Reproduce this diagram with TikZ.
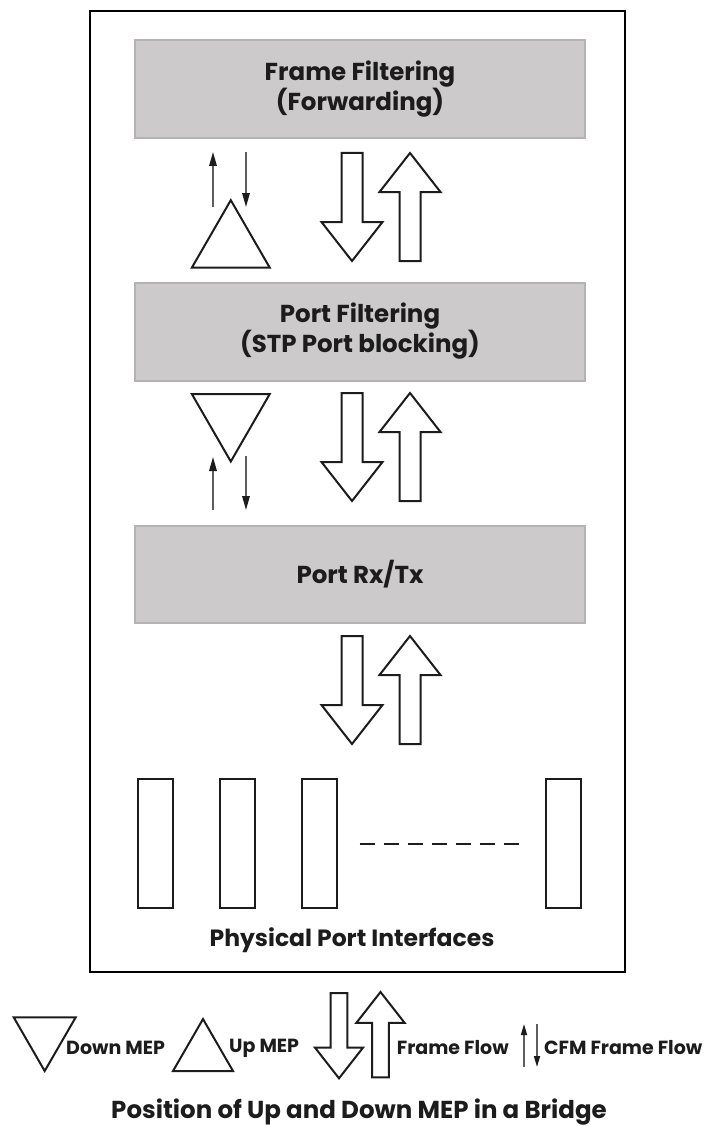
\documentclass[tikz,border=0pt]{standalone}
\usepackage{fontspec}
\setmainfont{Poppins}
\usetikzlibrary{
  arrows.meta,
  calc,
  shapes.geometric
}
\definecolor{ink}{HTML}{1C1C1C}
\definecolor{stagefill}{HTML}{CCCACB}
\definecolor{stageline}{HTML}{B4B2B3}
\definecolor{cfmline}{HTML}{5E5E5E}
\newcommand{\txtsize}[1]{\fontsize{#1}{29}\selectfont\bfseries}
\tikzset{
  stage/.style={
    draw=stageline,
    fill=stagefill,
    line width=2pt,
    minimum width=450pt,
    minimum height=98pt,
    align=center,
    text=ink,
    font=\txtsize{24.5}
  },
  portslot/.style={
    draw=ink,
    line width=2pt,
    minimum width=35pt,
    minimum height=129pt,
    inner sep=0pt
  },
  mepup/.style={
    regular polygon,
    regular polygon sides=3,
    draw=ink,
    line width=2pt,
    minimum size=90pt,
    inner sep=0pt
  },
  mepdown/.style={
    mepup,
    shape border rotate=180
  },
  flowedge/.style={
    draw=ink,
    fill=white,
    line width=2pt,
    line join=miter
  },
  cfmflow/.style={
    -{Triangle[length=14pt,width=7.5pt,color=ink]},
    line width=1.6pt,
    draw=cfmline
  },
  cfmsmall/.style={
    cfmflow,
    -{Triangle[length=11pt,width=6pt,color=ink]}
  },
  caption/.style={
    text=ink,
    inner sep=0pt,
    font=\txtsize{19}
  },
  pics/flowdown/.style={
    code={
      \draw[flowedge] (-10.5,0) -- (-10.5,69) -- (-30.5,69) -- (0,108)
        -- (30.5,69) -- (10.5,69) -- (10.5,0) -- cycle;
    }
  },
  pics/flowup/.style={
    code={
      \draw[flowedge] (-10.5,108) -- (-10.5,39) -- (-30.5,39) -- (0,0)
        -- (30.5,39) -- (10.5,39) -- (10.5,108) -- cycle;
    }
  }
}

\begin{document}
\begin{tikzpicture}[x=1pt, y=-1pt]
  \useasboundingbox (0,0) rectangle (706,1126);

  % bridge outline
  \draw[draw=black, line width=2.5pt] (90,11) rectangle (625,972);

  % processing stages
  \node[stage] (forward) at (360,89.5) {Frame Filtering\\(Forwarding)};
  \node[stage] (stp) at (360,331.5) {Port Filtering\\(STP Port blocking)};
  \node[stage, minimum height=97pt] (rxtx) at (360,574.5) {Port Rx/Tx};

  % frame flow between stages
  \pic (fdA) at (352,153) {flowdown};
  \pic (fuA) at (410,153) {flowup};
  \pic (fdB) at (352,393) {flowdown};
  \pic (fuB) at (410,393) {flowup};
  \pic (fdC) at (352,636) {flowdown};
  \pic (fuC) at (410,636) {flowup};

  % MEPs and their CFM flow
  \node[mepup] (upmep) at (230.8,245.2) {};
  \node[mepdown] (downmep) at (230.8,416.5) {};

  \coordinate (upcfm-a) at (213,207);
  \coordinate (upcfm-b) at (213,152);
  \coordinate (upcfm-c) at (246,152);
  \coordinate (upcfm-d) at (246,207);
  \coordinate (downcfm-a) at (213,510);
  \coordinate (downcfm-b) at (213,457);
  \coordinate (downcfm-c) at (246,456);
  \coordinate (downcfm-d) at (246,510);
  \draw[cfmflow] (upcfm-a) -- (upcfm-b);
  \draw[cfmflow] (upcfm-c) -- (upcfm-d);
  \draw[cfmflow] (downcfm-a) -- (downcfm-b);
  \draw[cfmflow] (downcfm-c) -- (downcfm-d);

  % physical ports
  \node[portslot] (portA) at (155.5,843.5) {};
  \node[portslot] (portB) at (237.5,843.5) {};
  \node[portslot] (portC) at (319,843.5) {};
  \node[portslot] (portD) at (563.5,843.5) {};
  \draw[draw=ink, line width=2pt, dash pattern=on 15pt off 9pt]
    ($(portC.east)+(22,0)$) -- ($(portD.west)+(-26,0)$);
  \node[caption, font=\txtsize{23.5}] (ports) at (352,940) {Physical Port Interfaces};

  % legend
  \node[mepdown, minimum size=71.6pt] (keydown) at (44.7,1035.2) {};
  \node[caption, anchor=west] (keydowntxt) at (66,1048) {Down MEP};
  \node[mepup, minimum size=69.3pt] (keyup) at (203,1053.7) {};
  \node[caption, anchor=west] (keyuptxt) at (229,1048) {Up MEP};
  \pic[scale=0.79] (keyfd) at (339,993) {flowdown};
  \pic[scale=0.79] (keyfu) at (380.5,992) {flowup};
  \node[caption, anchor=west] (keyflowtxt) at (396.7,1048) {Frame Flow};
  \coordinate (keycfm-a) at (524,1067);
  \coordinate (keycfm-b) at (524,1024);
  \coordinate (keycfm-c) at (537,1024);
  \coordinate (keycfm-d) at (537,1067);
  \draw[cfmsmall] (keycfm-a) -- (keycfm-b);
  \draw[cfmsmall] (keycfm-c) -- (keycfm-d);
  \node[caption, anchor=west] (keycfmtxt) at (544,1048) {CFM Frame Flow};

  \node[caption, font=\txtsize{24.5}] (title) at (359,1112)
    {Position of Up and Down MEP in a Bridge};
\end{tikzpicture}
\end{document}
